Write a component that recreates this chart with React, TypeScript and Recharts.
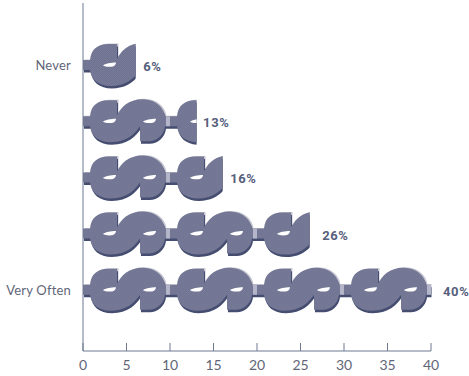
import { BarChart, Bar, XAxis, YAxis, LabelList } from "recharts";

const categories = ["Never", "Rarely", "Sometimes", "Often", "Very Often"];
const percents = [6, 13, 16, 26, 40];
const tickLabels = ["Never", "", "", "", "Very Often"];
const xTicks = [0, 5, 10, 15, 20, 25, 30, 35, 40];
const labelGaps = [8, 7, 8, 13, 12];

const rows = categories.map((name, i) => ({ name, value: percents[i], tick: tickLabels[i], gap: labelGaps[i] }));

// one dollar sign lying on its side, 87 wide, centred on y = 0
const DOLLAR =
  "M0 -5 L7 -5 C8 -16 15 -21 25 -21 L34 -21 L34 -6 C38 -14 45 -22 60 -22 C73 -22 81 -13 82 -5 L87 -5 L87 5 L82 5 " +
  "C81 14 73 20 66 20 L57 20 L57 5 C52 12 44 21 28 21 C15 21 8 14 7 5 L0 5 Z";
const SLITS =
  "M20 0.5 C22 -1.5 28 -2.5 33 -2.5 C33 -1 32 0.5 30 1.5 C27 2 22 2 20 0.5 Z " +
  "M60 0.5 C62 -1.5 68 -2.5 73 -2.5 C73 -1 72 0.5 70 1.5 C67 2 62 2 60 0.5 Z";
const TAB = "M83 -5 H87 V5 H83 Z";

const UNITS_PER_SIGN = 10;

function DollarBar(props: any) {
  const { x, y, width, height, value, index } = props;
  const pct = Array.isArray(value) ? value[1] : value;
  const period = (width / pct) * UNITS_PER_SIGN;
  const count = Math.ceil(pct / UNITS_PER_SIGN);
  const cy = y + height / 2;
  const clipId = `dollar-clip-${index}`;
  const signs = Array.from({ length: count }, (_, i) => x + i * period);
  const layer = (d: string, dx: number, dy: number, fill: string) =>
    signs.map((sx) => <path key={sx} d={d} fill={fill} transform={`translate(${sx + dx} ${cy + dy})`} />);
  return (
    <g clipPath={`url(#${clipId})`}>
      <clipPath id={clipId}>
        <rect x={x} y={y - 6} width={width + 0.5} height={height + 12} />
      </clipPath>
      {layer(DOLLAR, 1.5, -0.5, "#c4c4d0")}
      {layer(DOLLAR, 1, 2.5, "#454e70")}
      {layer(DOLLAR, 0, 0, "url(#dollar-grain)")}
      {layer(TAB, 0, 0, "#b4b5c8")}
      {layer(SLITS, 0, 0, "#ffffff")}
    </g>
  );
}

function XTick({ x, y, payload }: any) {
  return (
    <g>
      <line x1={x} x2={x} y1={y - 8} y2={y} stroke="#6d7891" />
      <text x={x} y={y + 19} textAnchor="middle" fontFamily="Lato" fontSize={14} fill="#5f6678">
        {payload.value}
      </text>
    </g>
  );
}

function YTick({ y, index }: any) {
  return (
    <text x={71} y={y + 5} textAnchor="end" fontFamily="Lato" fontSize={13} letterSpacing={0.2} fill="#5f6678">
      {tickLabels[index]}
    </text>
  );
}

function PercentLabel({ x, y, width, height, value, index }: any) {
  return (
    <text
      x={x + width + rows[index].gap}
      y={y + height / 2 + 6}
      fontFamily="Roboto"
      fontWeight={700}
      fontSize={13}
      letterSpacing={0.6}
      fill="#56607c"
    >
      {value}%
    </text>
  );
}

export default function App() {
  return (
    <div style={{ position: "absolute", left: 0, top: 0 }}>
      <BarChart
        width={469}
        height={376}
        layout="vertical"
        data={rows}
        margin={{ top: 3, right: 38, bottom: 0, left: 0 }}
      >
        <defs>
          <pattern id="dollar-grain" width={2} height={2} patternUnits="userSpaceOnUse">
            <rect width={2} height={2} fill="#6f7391" />
            <rect width={1} height={1} fill="#787b98" />
            <rect x={1} y={1} width={1} height={1} fill="#787b98" />
          </pattern>
        </defs>
        <XAxis
          type="number"
          domain={[0, 40]}
          ticks={xTicks}
          height={25}
          stroke="#6d7891"
          tickLine={false}
          tickSize={0}
          tickMargin={0}
          tick={<XTick />}
          interval={0}
        />
        <YAxis
          type="category"
          dataKey="name"
          width={83}
          padding={{ top: 34, bottom: 33 }}
          stroke="#6d7891"
          tickLine={false}
          tick={<YTick />}
          interval={0}
        />
        <Bar dataKey="value" barSize={44} isAnimationActive={false} shape={<DollarBar />}>
          <LabelList dataKey="value" content={<PercentLabel />} />
        </Bar>
      </BarChart>
    </div>
  );
}
